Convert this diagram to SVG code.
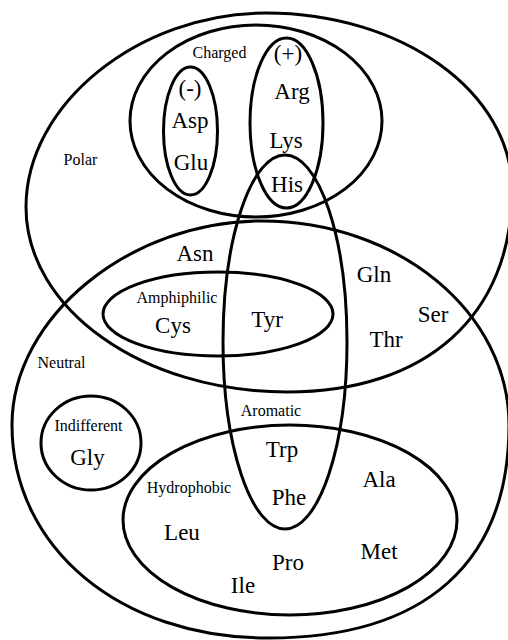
<svg xmlns="http://www.w3.org/2000/svg" width="508" height="640" viewBox="0 0 508 640" font-family="Liberation Serif, serif">
<style>
.s{fill:none;stroke:#000;stroke-width:3}
text{font-family:"Liberation Serif",serif;fill:#000;text-anchor:middle}
.b{font-size:23px}
.t{font-size:16px}
</style>
<rect width="508" height="640" fill="#fff"/>
<g id="polar">
<path class="s" d="M266,13 C402,13 512,92 512,190 C512,315 427,392 287,392 C143,392 26,309 26,207 C26,104 139,13 266,13 Z"/>
<text class="t" x="80.5" y="165">Polar</text>
</g>
<g id="neutral">
<path class="s" d="M262,221 C398,221 509,312 509,425 C509,563 425,638 268,638 C120,638 12,548 12,425 C12,317 130,221 262,221 Z"/>
<text class="t" x="61.5" y="368">Neutral</text>
</g>
<g id="charged">
<ellipse class="s" cx="256" cy="121" rx="126" ry="96"/>
<text class="t" x="219.5" y="58">Charged</text>
</g>
<g id="negative">
<ellipse class="s" cx="190.5" cy="131" rx="27" ry="64"/>
<text class="b" x="190" y="96">(-)</text>
</g>
<g id="positive">
<ellipse class="s" cx="286.5" cy="123" rx="36.5" ry="85"/>
<text class="b" x="288" y="61">(+)</text>
</g>
<g id="aromatic">
<ellipse class="s" cx="285" cy="342" rx="62" ry="187"/>
<text class="t" x="271" y="416">Aromatic</text>
</g>
<g id="amphiphilic">
<ellipse class="s" cx="218" cy="314" rx="115" ry="42"/>
<text class="t" x="177" y="303">Amphiphilic</text>
</g>
<g id="indifferent">
<ellipse class="s" cx="91" cy="443" rx="50" ry="47"/>
<text class="t" x="88.5" y="431">Indifferent</text>
</g>
<g id="hydrophobic">
<ellipse class="s" cx="290" cy="520" rx="167" ry="95"/>
<text class="t" x="189" y="493">Hydrophobic</text>
</g>
<g id="amino-acids">
<g id="Arg"><text class="b" x="292" y="99">Arg</text></g>
<g id="Asp"><text class="b" x="190" y="128">Asp</text></g>
<g id="Glu"><text class="b" x="191" y="170">Glu</text></g>
<g id="Lys"><text class="b" x="286" y="148">Lys</text></g>
<g id="His"><text class="b" x="287" y="192">His</text></g>
<g id="Asn"><text class="b" x="195" y="261">Asn</text></g>
<g id="Cys"><text class="b" x="173" y="333">Cys</text></g>
<g id="Tyr"><text class="b" x="267" y="327">Tyr</text></g>
<g id="Gln"><text class="b" x="374" y="282">Gln</text></g>
<g id="Ser"><text class="b" x="433" y="322">Ser</text></g>
<g id="Thr"><text class="b" x="386" y="347">Thr</text></g>
<g id="Gly"><text class="b" x="87.5" y="465">Gly</text></g>
<g id="Trp"><text class="b" x="282" y="457">Trp</text></g>
<g id="Phe"><text class="b" x="289" y="505">Phe</text></g>
<g id="Ala"><text class="b" x="379" y="487">Ala</text></g>
<g id="Leu"><text class="b" x="182" y="540">Leu</text></g>
<g id="Met"><text class="b" x="379" y="559">Met</text></g>
<g id="Pro"><text class="b" x="288" y="570">Pro</text></g>
<g id="Ile"><text class="b" x="243" y="593">Ile</text></g>
</g>
</svg>
